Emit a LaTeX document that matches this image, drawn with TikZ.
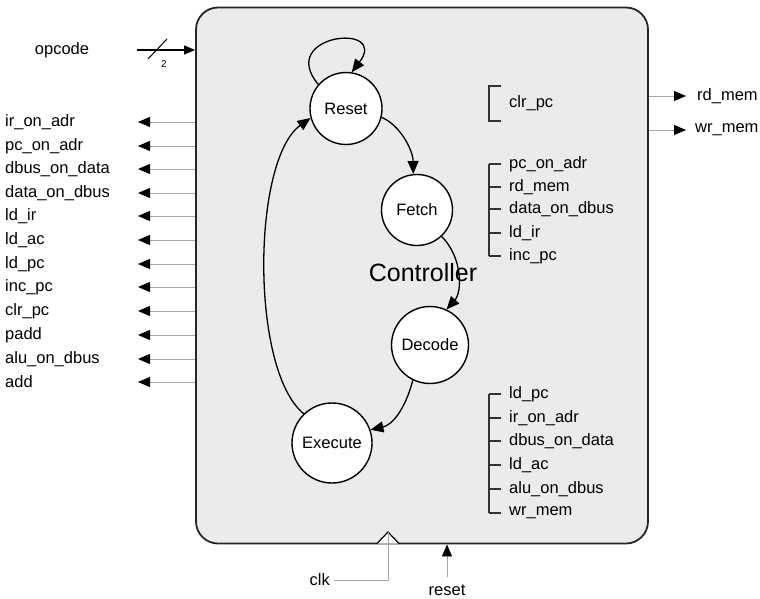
\documentclass[tikz,border=0pt]{standalone}
\usepackage{fontspec}
\setmainfont{Liberation Sans}
\usetikzlibrary{arrows.meta}
\tikzset{
  lbl/.style={font=\fontsize{16.5}{18}\selectfont, inner sep=0pt, anchor=west},
  state/.style={circle, draw=black, line width=1.4pt, fill=white, inner sep=0pt, font=\fontsize{16.5}{18}\selectfont},
  trans/.style={draw=black, line width=1.3pt, -{Triangle[length=13pt,width=11pt]}},
  outsig/.style={draw=gray!70, line width=0.8pt, -{Triangle[length=12pt,width=10pt,color=black]}},
  brk/.style={draw=black!80, line width=1.1pt},
}
\begin{document}
\begin{tikzpicture}[x=1pt,y=1pt]
\useasboundingbox (0,0) rectangle (760,-599);
% controller box
\node[draw=black!85, line width=1.8pt, fill=gray!16, rounded corners=22pt, minimum width=452pt, minimum height=536pt, inner sep=0pt] (box) at (422,-275.5) {};
\node[font=\fontsize{25}{28}\selectfont, inner sep=0pt] (ctl) at (423,-273) {Controller};

% states
\node[state, minimum size=72pt] (R) at (346,-108.5) {Reset};
\node[state, minimum size=71pt] (F) at (417,-210) {Fetch};
\node[state, minimum size=77pt] (D) at (430,-345) {Decode};
\node[state, minimum size=80pt] (E) at (332,-443) {Execute};

% transitions
\draw[trans] (R.139) .. controls (276,-34) and (390,-22) .. (R.81);
\draw[trans] (R.-14) .. controls (400,-125) and (413,-150) .. (F.96);
\draw[trans] (F.-47) .. controls (463,-258) and (462,-292) .. (D.65);
\draw[trans] (D.-116) .. controls (405,-410) and (392,-425) .. (E.19);
\draw[trans] (E.134) .. controls (250,-370) and (252,-160) .. (R.195);

% opcode input
\node[lbl, anchor=center] (opc) at (62,-50) {opcode};
\coordinate (opcS) at (137,-50);
\draw[draw=black, line width=1.2pt, -{Triangle[length=11pt,width=9pt]}] (opcS) -- (opcS -| box.west);
\coordinate (slA) at (148,-59);
\coordinate (slB) at (167,-39);
\draw[line width=1pt] (slA) -- (slB);
\node[font=\fontsize{10}{12}\selectfont, inner sep=0pt] (two) at (164,-64) {2};

% left outputs
\foreach \nm/\txt/\yy in {o1/ir\_on\_adr/122, o2/pc\_on\_adr/146, o3/dbus\_on\_data/169, o4/data\_on\_dbus/193, o5/ld\_ir/216, o6/ld\_ac/240, o7/ld\_pc/264, o8/inc\_pc/287, o9/clr\_pc/311, o10/padd/335, o11/alu\_on\_dbus/359, o12/add/382}{
  \node[lbl] (\nm) at (5,-\yy) {\txt};
  \coordinate (\nm t) at (138,-\yy);
  \draw[outsig] (\nm t -| box.west) -- (\nm t);
}

% right outputs
\node[lbl] (rdm) at (697,-96) {rd\_mem};
\node[lbl] (wrm) at (695,-130) {wr\_mem};
\coordinate (rdt) at (686,-96);
\coordinate (wrt) at (686,-130);
\draw[outsig] (rdt -| box.east) -- (rdt);
\draw[outsig] (wrt -| box.east) -- (wrt);

% reset-state outputs
\node[lbl] (c1) at (509,-103) {clr\_pc};
\coordinate (c1a) at (489,-86);
\coordinate (c1b) at (489,-121);
\draw[brk] ([xshift=12pt]c1a) -- (c1a) -- (c1b) -- ([xshift=12pt]c1b);

% fetch-state outputs
\foreach \nm/\txt/\yy in {f1/pc\_on\_adr/164, f2/rd\_mem/187, f3/data\_on\_dbus/209, f4/ld\_ir/233, f5/inc\_pc/256}{
  \node[lbl] (\nm) at (509,-\yy) {\txt};
  \coordinate (\nm k) at (489,-\yy);
  \draw[brk] (\nm k) -- ++(12,0);
}
\draw[brk] (f1k) -- (f5k);

% execute-state outputs
\foreach \nm/\txt/\yy in {e1/ld\_pc/394, e2/ir\_on\_adr/418, e3/dbus\_on\_data/441, e4/ld\_ac/465, e5/alu\_on\_dbus/489, e6/wr\_mem/513}{
  \node[lbl] (\nm) at (509,-\yy) {\txt};
  \coordinate (\nm k) at (489,-\yy);
  \draw[brk] (\nm k) -- ++(12,0);
}
\draw[brk] (e1k) -- (e6k);

% clock
\coordinate (ckL) at (377,-543.5);
\coordinate (ckT) at (388,-532);
\coordinate (ckR) at (399,-543.5);
\draw[line width=1.2pt, fill=white] (ckL) -- (ckT) -- (ckR);
\node[lbl, anchor=east] (clk) at (330,-580) {clk};
\draw[draw=gray!70, line width=0.8pt] (clk.east) ++(4,0) coordinate (clkS) -- (clkS -| ckT) -- (ckT);

% reset input
\node[lbl, anchor=center] (rst) at (447,-590) {reset};
\coordinate (rstS) at (447,-577);
\draw[outsig] (rstS) -- (rstS |- box.south);
\end{tikzpicture}
\end{document}
